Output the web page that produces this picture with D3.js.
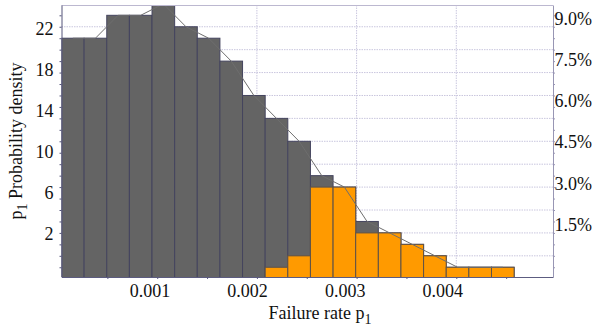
<!DOCTYPE html>
<html>
<head>
<meta charset="utf-8">
<script src="https://cdn.jsdelivr.net/npm/d3@7/dist/d3.min.js"></script>
<style>
    body { margin: 0; background: #fff; }
    svg text { font-family: "Liberation Serif", "Times New Roman", serif; fill: #111; }
</style>
</head>
<body>
<svg id="chart" width="598" height="329"></svg>
<script>
// histogram bins (failure rate p1)
const binEdges = [0.000040, 0.000267, 0.000494, 0.000721, 0.000948, 0.001175, 0.001402,
    0.001629, 0.001856, 0.002083, 0.002310, 0.002537, 0.002764, 0.002991, 0.003218,
    0.003445, 0.003672, 0.003899, 0.004126, 0.004353, 0.004580];
// counts per bin: all samples (grey) and the failing subset (orange)
const allCounts = [21, 21, 23, 23, 24, 22, 21, 19, 16, 14, 12, 9, 8, 5, 4, 3, 2, 1, 1, 1];
const subCounts = [0, 0, 0, 0, 0, 0, 0, 0, 0, 1, 2, 8, 8, 4, 4, 3, 2, 1, 1, 1];
// axis labels
const xTickLabels = [0.001, 0.002, 0.003, 0.004];
const densityLabels = [22, 18, 14, 10, 6, 2];
const percentLabels = [9.0, 7.5, 6.0, 4.5, 3.0, 1.5];

const plot = { left: 61.5, right: 553, top: 5, bottom: 277 };

const svg = d3.select('#chart');

const x = d3.scaleLinear()
    .domain([0.00004, 0.00497])
    .range([plot.left, plot.right]);

const y = d3.scaleLinear()
    .domain([0.15, 23.9])
    .range([plot.bottom, plot.top]);

// label positions on the figure do not sit on the tick grid, so they get their own scales
const xLabel = d3.scaleLinear().domain([0.001, 0.004]).range([150, 442.8]);
const densityY = d3.scaleLinear().domain([2, 22]).range([240, 35]);
const percentY = d3.scaleLinear().domain([1.5, 9.0]).range([230.7, 25]);

svg.append('defs').append('clipPath')
    .attr('id', 'plot-clip')
    .append('rect')
    .attr('x', plot.left)
    .attr('y', plot.top)
    .attr('width', plot.right - plot.left)
    .attr('height', plot.bottom - plot.top);

// grid
const grid = svg.append('g')
    .attr('stroke', '#c9c6de')
    .attr('stroke-width', 1)
    .attr('stroke-dasharray', '1.5,1');

grid.selectAll('line.gx')
    .data(xTickLabels)
    .enter()
    .append('line')
    .attr('x1', d => x(d)).attr('x2', d => x(d))
    .attr('y1', plot.top).attr('y2', plot.bottom);

grid.selectAll('line.gy')
    .data(d3.range(2, 23, 2))
    .enter()
    .append('line')
    .attr('x1', plot.left).attr('x2', plot.right)
    .attr('y1', d => y(d)).attr('y2', d => y(d));

const bins = allCounts.map((c, i) => ({ x0: binEdges[i], x1: binEdges[i + 1], all: c, sub: subCounts[i] }));

const marks = svg.append('g').attr('clip-path', 'url(#plot-clip)');

marks.selectAll('rect.all')
    .data(bins)
    .enter()
    .append('rect')
    .attr('class', 'all')
    .attr('x', d => x(d.x0))
    .attr('width', d => x(d.x1) - x(d.x0))
    .attr('y', d => y(d.all))
    .attr('height', d => y(0) - y(d.all))
    .attr('fill', '#646464')
    .attr('stroke', '#44445e')
    .attr('stroke-width', 1);

marks.selectAll('rect.sub')
    .data(bins.filter(d => d.sub > 0))
    .enter()
    .append('rect')
    .attr('class', 'sub')
    .attr('x', d => x(d.x0))
    .attr('width', d => x(d.x1) - x(d.x0))
    .attr('y', d => y(d.sub))
    .attr('height', d => y(0) - y(d.sub))
    .attr('fill', '#ff9a00')
    .attr('stroke', '#5e5248')
    .attr('stroke-width', 1);

const line = d3.line()
    .x(d => x((d.x0 + d.x1) / 2))
    .y(d => y(d.all));

marks.append('path')
    .datum(bins)
    .attr('d', line)
    .attr('fill', 'none')
    .attr('stroke', '#6e6e6e')
    .attr('stroke-width', 1);

// frame and axes
svg.append('line')
    .attr('x1', plot.left).attr('x2', plot.right)
    .attr('y1', plot.top + 0.5).attr('y2', plot.top + 0.5)
    .attr('stroke', '#bcb8d0');

const axisStyle = (g, color) => {
    g.select('.domain').attr('stroke', color);
    g.selectAll('.tick line').attr('stroke', color);
    g.selectAll('.tick text').remove();
};

svg.append('g')
    .attr('transform', `translate(0,${plot.bottom})`)
    .call(d3.axisBottom(x).tickValues(d3.range(1, 10).map(k => k * 0.0005)).tickSizeInner(2).tickSizeOuter(0))
    .call(g => axisStyle(g, '#5c5c80'));

svg.append('g')
    .attr('transform', `translate(${plot.left},0)`)
    .call(d3.axisLeft(y).tickValues(d3.range(1, 24)).tickSizeInner(2).tickSizeOuter(0))
    .call(g => axisStyle(g, '#55557a'));

svg.append('g')
    .attr('transform', `translate(${plot.right},0)`)
    .call(d3.axisRight(y).tickValues(d3.range(1, 24)).tickSizeInner(2).tickSizeOuter(0))
    .call(g => axisStyle(g, '#9896b4'));

// labels
svg.append('g').selectAll('text')
    .data(xTickLabels)
    .enter()
    .append('text')
    .attr('x', d => xLabel(d))
    .attr('y', 296.7)
    .attr('text-anchor', 'middle')
    .attr('font-size', 18)
    .text(d => d3.format('.3f')(d));

svg.append('g').selectAll('text')
    .data(densityLabels)
    .enter()
    .append('text')
    .attr('x', 53.5)
    .attr('y', d => densityY(d))
    .attr('text-anchor', 'end')
    .attr('font-size', 18)
    .text(d => d);

svg.append('g').selectAll('text')
    .data(percentLabels)
    .enter()
    .append('text')
    .attr('x', 554.5)
    .attr('y', d => percentY(d))
    .attr('font-size', 18)
    .text(d => d3.format('.1f')(d) + '%');

const xTitle = svg.append('text')
    .attr('x', 320)
    .attr('y', 319.3)
    .attr('text-anchor', 'middle')
    .attr('font-size', 18);
xTitle.append('tspan').text('Failure rate p');
xTitle.append('tspan').attr('dy', 5).attr('font-size', 14).text('1');

const yTitle = svg.append('text')
    .attr('transform', 'translate(22,141) rotate(-90)')
    .attr('text-anchor', 'middle')
    .attr('font-size', 18);
yTitle.append('tspan').text('p');
yTitle.append('tspan').attr('dy', 5).attr('font-size', 14).text('1');
yTitle.append('tspan').attr('dy', -5).text(' Probability density');
</script>
</body>
</html>
